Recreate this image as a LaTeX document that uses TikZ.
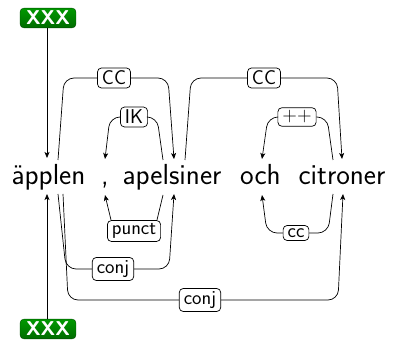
\documentclass[tikz,border=0pt]{standalone}
\usetikzlibrary{arrows.meta}
\begin{document}
\begin{tikzpicture}[x=1pt,y=-1pt,
  word/.style={font=\fontsize{29}{33}\selectfont\sffamily, inner sep=0pt, anchor=base},
  lab/.style={draw, rounded corners=4pt, fill=white, font=\fontsize{20}{24}\selectfont\sffamily, inner xsep=4.5pt, inner ysep=3pt, line width=0.7pt},
  tagbox/.style={rounded corners=4pt, top color=green!60!black, bottom color=green!42!black, draw=green!30!black, text=white, font=\fontsize{20}{24}\selectfont\sffamily\bfseries, inner xsep=6pt, inner ysep=3pt},
  edge/.style={line width=0.7pt, rounded corners=10pt},
  arr/.style={-{Stealth[length=6pt,width=5pt,inset=1.5pt]}}
]
\useasboundingbox (0,0) rectangle (394,342);
% words
\node[word] (w1) at (48.5,185) {äpplen};
\node[word] (w2) at (105,185) {,};
\node[word] (w3) at (172,185) {apelsiner};
\node[word] (w4) at (260.5,185) {och};
\node[word] (w5) at (342,185) {citroner};
% tag boxes
\node[tagbox] (t1) at (48,18) {XXX};
\node[tagbox] (t2) at (48,329) {XXX};
% attachment points
\coordinate (a1t) at (58,160);  \coordinate (a1b) at (58,194);
\coordinate (a1bb) at (63,194);
\coordinate (x1t) at (47,158);  \coordinate (x1b) at (47,194);
\coordinate (a2t) at (105,159); \coordinate (a2b) at (105,195);
\coordinate (a3ti) at (174,159); \coordinate (a3to) at (163,160);
\coordinate (a3tc) at (185,160);
\coordinate (a3bi) at (174,194); \coordinate (a3bo) at (163,195);
\coordinate (a4t) at (262,159); \coordinate (a4b) at (262,195);
\coordinate (a5ti) at (342,159); \coordinate (a5to) at (333,160);
\coordinate (a5bi) at (343,194); \coordinate (a5bo) at (333,194);
% labels
\node[lab] (cc1) at (114,78) {CC};
\node[lab] (ik) at (134,117) {IK};
\node[lab] (cc2) at (264,78) {CC};
\node[lab] (pp) at (297,117) {++};
\node[lab] (pu) at (134,231) {punct};
\node[lab] (cj1) at (113,269) {conj};
\node[lab] (cj2) at (200,300) {conj};
\node[lab] (cc3) at (296,233) {cc};
% XXX arrows
\draw[line width=0.7pt, arr] (t1.south -| x1t) -- (x1t);
\draw[line width=0.7pt, arr] (t2.north -| x1b) -- (x1b);
% top edges
\draw[edge] (a1t) -- (64,78) -- (cc1.west);
\draw[edge, arr] (cc1.east) -- (168,78) -- (a3ti);
\draw[edge] (a3to) -- (157,117) -- (ik.east);
\draw[edge, arr] (ik.west) -- (110,117) -- (a2t);
\draw[edge] (a3tc) -- (191,78) -- (cc2.west);
\draw[edge, arr] (cc2.east) -- (337,78) -- (a5ti);
\draw[edge] (a5to) -- (327,117) -- (pp.east);
\draw[edge, arr] (pp.west) -- (268,117) -- (a4t);
% bottom edges
\draw[line width=0.7pt] (a3bo) -- ([xshift=-4pt]pu.north east);
\draw[line width=0.7pt, arr] ([xshift=4pt]pu.north west) -- (a2b);
\draw[edge] (a1b) -- (66,269) -- (cj1.west);
\draw[edge, arr] (cj1.east) -- (169,269) -- (a3bi);
\draw[edge] (a1bb) -- (68,300) -- (cj2.west);
\draw[edge, arr] (cj2.east) -- (338,300) -- (a5bi);
\draw[edge] (a5bo) -- (328,233) -- (cc3.east);
\draw[edge, arr] (cc3.west) -- (267,233) -- (a4b);
\end{tikzpicture}
\end{document}
